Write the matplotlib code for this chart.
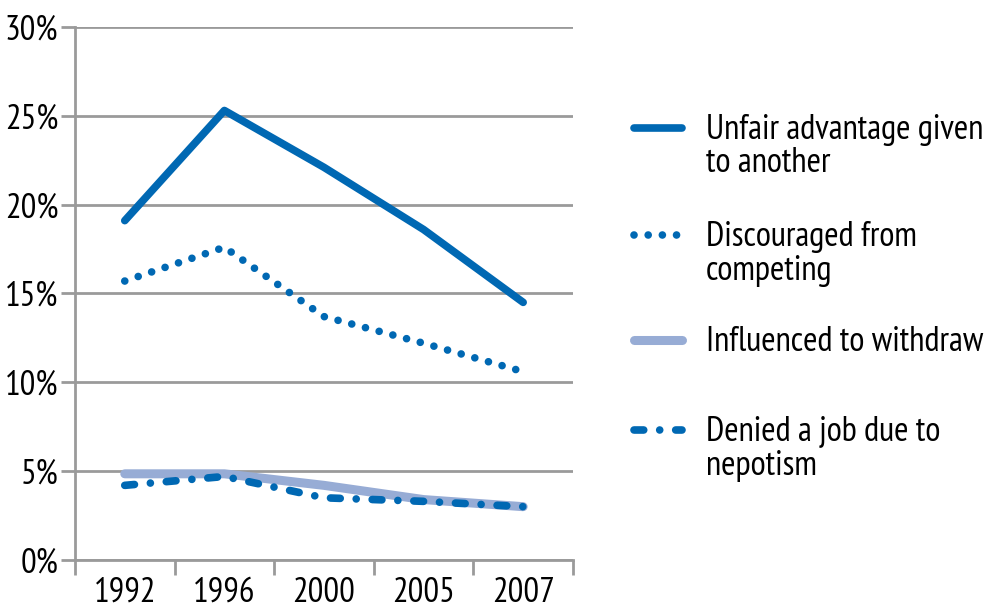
import matplotlib
matplotlib.use("Agg")
import matplotlib.pyplot as plt
from matplotlib.lines import Line2D
from matplotlib.ticker import FixedLocator, FuncFormatter

plt.rcParams['font.family'] = ['PT Sans Narrow', 'DejaVu Sans']
plt.rcParams['lines.scale_dashes'] = False

# data
years = ['1992', '1996', '2000', '2005', '2007']
unfair = [19.1, 25.3, 22.1, 18.6, 14.5]
discouraged = [15.7, 17.6, 13.7, 12.2, 10.6]
influenced = [4.85, 4.85, 4.2, 3.4, 3.0]
denied = [4.2, 4.7, 3.5, 3.3, 3.0]
labels = ['Unfair advantage given\nto another', 'Discouraged from\ncompeting',
          'Influenced to withdraw', 'Denied a job due to\nnepotism']

dark = '#0068b3'
light = '#97acd5'
grid = '#9a9a9a'

styles = [
    dict(color=dark, lw=5.5, solid_capstyle='round', solid_joinstyle='round'),
    dict(color=dark, lw=5.5, dashes=(0.01, 10.2), dash_capstyle='round'),
    dict(color=light, lw=6.5, solid_capstyle='round', solid_joinstyle='round'),
    dict(color=dark, lw=5.5, dashes=(7, 11.5, 0.01, 11.5), dash_capstyle='round'),
]

fig = plt.figure(figsize=(9.93, 6.09), dpi=100)
ax = fig.add_axes([0.0755, 0.0805, 0.5015, 0.8752])

x = list(range(len(years)))
ax.plot(x, unfair, **styles[0], zorder=4)
ax.plot(x, discouraged, **styles[1], zorder=4)
ax.plot(x, influenced, **styles[2], zorder=3)
ax.plot(x, denied, **styles[3], zorder=4)

ax.set_xlim(-0.5, len(years) - 0.5)
ax.set_ylim(0, 30)
ax.set_yticks(range(0, 31, 5))
ax.yaxis.set_major_formatter(FuncFormatter(lambda v, p: f'{v:.0f}%'))
ax.yaxis.grid(True, color=grid, lw=2)
ax.set_axisbelow(True)

ax.set_xticks(x)
ax.set_xticklabels(years)
ax.xaxis.set_minor_locator(FixedLocator([i - 0.5 for i in range(len(years) + 1)]))
ax.tick_params(axis='x', which='major', length=0, pad=12, labelsize=25)
ax.tick_params(axis='x', which='minor', length=11, width=2, color=grid)
ax.tick_params(axis='y', length=10, width=2, color=grid, pad=2, labelsize=25)

for s in ['top', 'right']:
    ax.spines[s].set_visible(False)
for s in ['left', 'bottom']:
    ax.spines[s].set_color(grid)
    ax.spines[s].set_linewidth(2)

# legend drawn by hand so the key sits on the first text line
key_y = [0.790, 0.614, 0.442, 0.294]
for st, lab, ky in zip(styles, labels, key_y):
    fig.add_artist(Line2D([0.638, 0.687], [ky, ky], transform=fig.transFigure, **st))
    fig.text(0.711, ky + 0.0235, lab, fontsize=25, va='top', ha='left',
             transform=fig.transFigure, linespacing=1.07)

fig.savefig('out.png', dpi=100)
